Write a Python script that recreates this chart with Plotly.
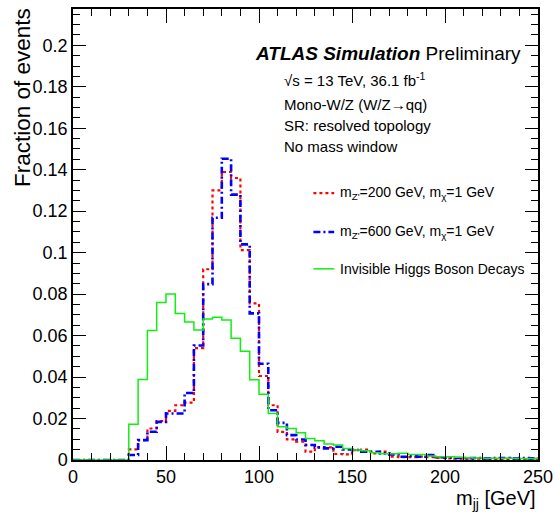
import plotly.graph_objects as go

# ---- data (fraction of events per 5 GeV bin, m_jj from 0 to 250 GeV) ----
bin_width = 5
bin_lo = list(range(0, 250, bin_width))

zp200 = [0, 0, 0, 0, 0, 0,
         0.0051, 0.0096, 0.0152, 0.0187, 0.0237, 0.0264, 0.0277, 0.0540,
         0.0920, 0.1300, 0.1389, 0.1360, 0.1012, 0.0755, 0.0405, 0.0264,
         0.0136, 0.0099, 0.0088, 0.0040, 0.0061, 0.0061, 0.0029, 0.0027,
         0.0048, 0.0050, 0.0032, 0.0040, 0.0016, 0.0014, 0.0014, 0.0016,
         0.0014, 0.0010, 0.0008, 0.0006, 0.0005, 0.0007, 0.0005, 0.0004,
         0.0005, 0.0006, 0.0004, 0.0005]

zp600 = [0, 0, 0, 0, 0, 0,
         0.0024, 0.0096, 0.0136, 0.0184, 0.0224, 0.0224, 0.0323, 0.0552,
         0.0848, 0.1168, 0.1453, 0.1280, 0.1040, 0.0707, 0.0464, 0.0240,
         0.0179, 0.0120, 0.0099, 0.0072, 0.0061, 0.0056, 0.0064, 0.0051,
         0.0048, 0.0040, 0.0040, 0.0032, 0.0027, 0.0016, 0.0019, 0.0016,
         0.0024, 0.0013, 0.0011, 0.0010, 0.0009, 0.0010, 0.0008, 0.0009,
         0.0010, 0.0008, 0.0009, 0.0008]

hinv = [0, 0, 0, 0, 0, 0,
        0.0173, 0.0388, 0.0624, 0.0760, 0.0800, 0.0706, 0.0666, 0.0627,
        0.0680, 0.0688, 0.0675, 0.0587, 0.0525, 0.0387, 0.0317, 0.0224,
        0.0160, 0.0152, 0.0131, 0.0104, 0.0093, 0.0077, 0.0072, 0.0056,
        0.0048, 0.0045, 0.0035, 0.0030, 0.0030, 0.0032, 0.0027, 0.0026,
        0.0019, 0.0016, 0.0016, 0.0013, 0.0011, 0.0010, 0.0009, 0.0009,
        0.0008, 0.0008, 0.0007, 0.0007]

names = ["m<sub>Z'</sub>=200 GeV, m<sub>χ</sub>=1 GeV",
         "m<sub>Z'</sub>=600 GeV, m<sub>χ</sub>=1 GeV",
         "Invisible Higgs Boson Decays"]
colors = ["#ff0000", "#0000ff", "#11ee11"]
dashes = ["dot", "7px,3px,2px,3px", "solid"]
widths = [2.2, 2.6, 1.5]

FONT = "Liberation Sans, Arial, Helvetica, sans-serif"

fig = go.Figure()
edges = bin_lo + [bin_lo[-1] + bin_width]
for vals, c, d, w in zip([zp200, zp600, hinv], colors, dashes, widths):
    fig.add_trace(go.Scatter(
        x=edges, y=list(vals) + [vals[-1]], mode="lines",
        line=dict(shape="hv", color=c, dash=d, width=w),
        showlegend=False, hoverinfo="skip"))

# plot-area geometry (pixels)
L, R, T, B = 73, 543, 7, 460
W, H = R - L, B - T
def px(x):
    return (x - L) / W
def py(y):
    return (B - y) / H

annots = []
annots.append(dict(x=px(255), y=py(52), xanchor="left", yanchor="middle",
                   text="<b><i>ATLAS Simulation</i></b> Preliminary",
                   font=dict(size=19)))
info = ["√s = 13 TeV, 36.1 fb<sup>-1</sup>", "Mono-W/Z (W/Z→qq)",
        "SR: resolved topology", "No mass window"]
for t, yy in zip(info, [78, 103, 124, 145]):
    annots.append(dict(x=px(284), y=py(yy), xanchor="left", yanchor="middle",
                       text=t, font=dict(size=15)))

# legend (manual)
leg_y = [192, 231, 268]
shapes = []
for n, c, d, w, yy in zip(names, colors, dashes, widths, leg_y):
    shapes.append(dict(type="line", xref="paper", yref="paper",
                       x0=px(316), x1=px(337), y0=py(yy), y1=py(yy),
                       line=dict(color=c, dash=d, width=w)))
    annots.append(dict(x=px(341), y=py(yy), xanchor="left", yanchor="middle",
                       text=n, font=dict(size=14)))

# axis titles
annots.append(dict(x=px(22), y=py(4), xanchor="center", yanchor="top",
                   textangle=-90, text="Fraction of events", font=dict(size=22.5)))
annots.append(dict(x=px(543), y=py(500), xanchor="right", yanchor="middle",
                   text="m<sub>jj</sub> [GeV]", font=dict(size=20)))

for a in annots:
    a.update(xref="paper", yref="paper", showarrow=False)
    a["font"].update(family=FONT, color="black")

axis_common = dict(showgrid=False, zeroline=False, showline=True,
                   linecolor="black", linewidth=1.5, mirror="allticks",
                   ticks="inside", tickcolor="black", tickwidth=1.2,
                   tickfont=dict(family=FONT, size=18, color="black"))

fig.update_layout(
    width=560, height=518,
    margin=dict(l=L, r=560 - R, t=T, b=518 - B),
    plot_bgcolor="white", paper_bgcolor="white",
    showlegend=False,
    annotations=annots, shapes=shapes,
    xaxis=dict(range=[0, 250], dtick=50, tick0=0, ticklen=14,
               minor=dict(dtick=10, ticklen=7, ticks="inside",
                          tickcolor="black", tickwidth=1.2),
               **axis_common),
    yaxis=dict(range=[0, 0.2175], dtick=0.02, tick0=0, ticklen=13,
               minor=dict(dtick=0.005, ticklen=7, ticks="inside",
                          tickcolor="black", tickwidth=1.2),
               **axis_common),
)

fig.write_html("out.html")
